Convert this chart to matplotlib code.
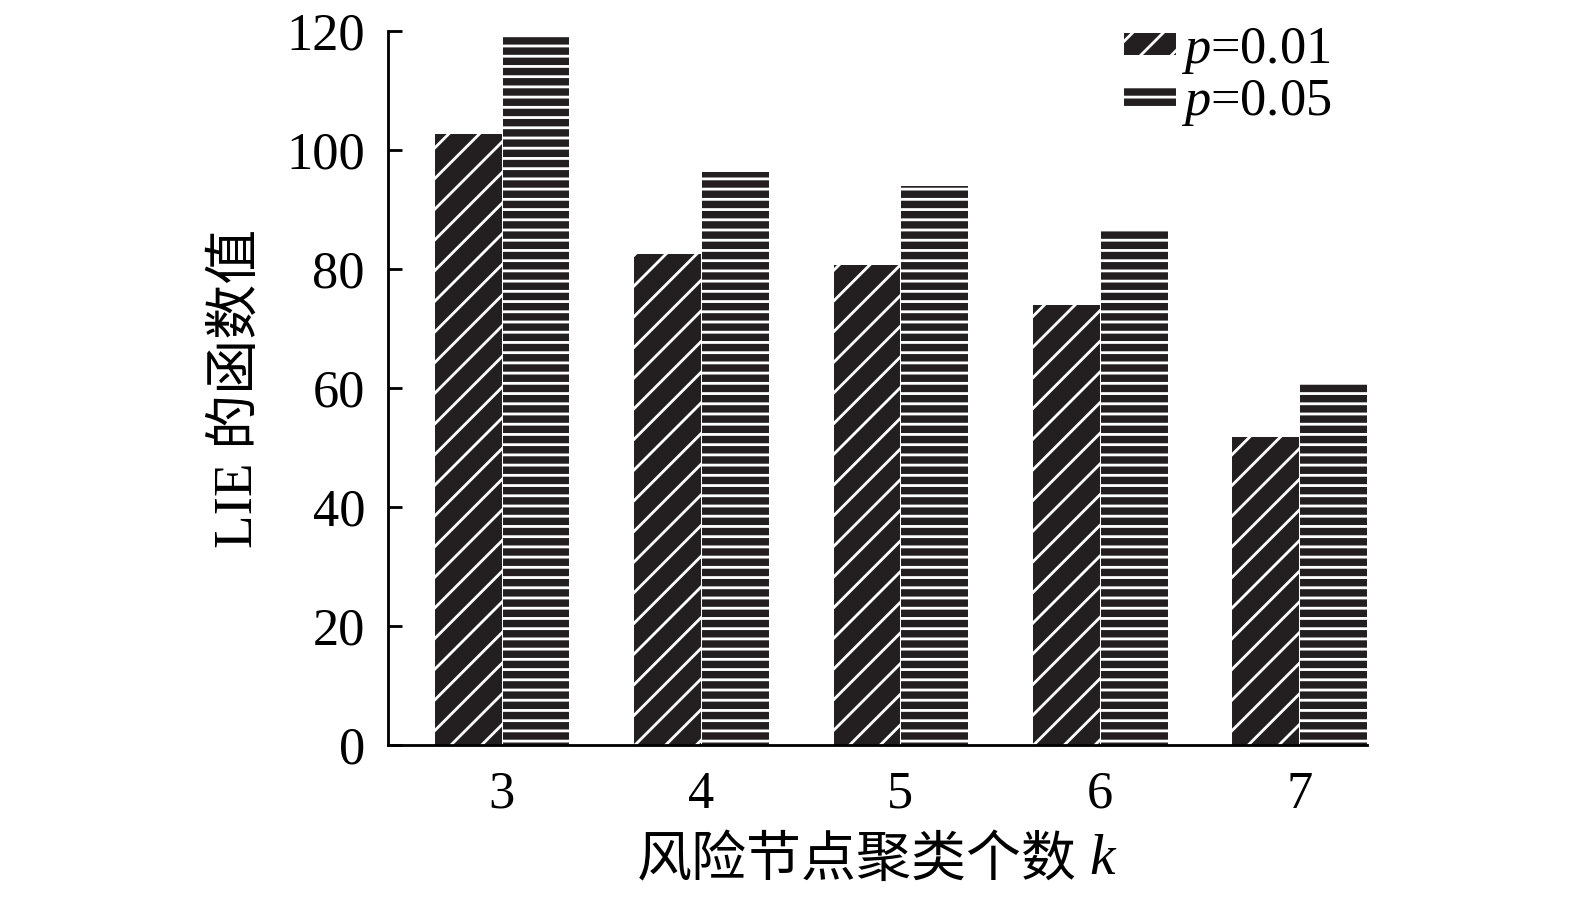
import matplotlib
matplotlib.use("Agg")
import matplotlib.pyplot as plt
import numpy as np

# Data
categories = [3, 4, 5, 6, 7]
p001 = [102.8, 82.7, 80.8, 74.2, 52.0]
p005 = [119.3, 96.4, 94.2, 86.6, 61.0]
series_labels = ["$p$=0.01", "$p$=0.05"]
yticks = [0, 20, 40, 60, 80, 100, 120]

DPI = 184
plt.rcParams["font.family"] = ["Liberation Serif", "Noto Sans CJK SC"]
plt.rcParams["mathtext.fontset"] = "custom"
plt.rcParams["mathtext.rm"] = "Liberation Serif"
plt.rcParams["mathtext.it"] = "Liberation Serif:italic"
plt.rcParams["hatch.linewidth"] = 1.1

fig = plt.figure(figsize=(1575 / DPI, 900 / DPI), dpi=DPI)
ax = fig.add_axes([388 / 1575, 1 - 745 / 900, (1367 - 388) / 1575, (745 - 31) / 900])

dark = "#231f20"
x = np.array(categories, dtype=float)
w = 0.34
ax.bar(x - w / 2, p001, width=w, color=dark, edgecolor="white", linewidth=0.4,
       hatch="//", label=series_labels[0])
ax.bar(x + w / 2, p005, width=w, color=dark, edgecolor="white", linewidth=0.4,
       hatch="---", label=series_labels[1])

ax.set_xlim(2.43, 7.34)
ax.set_ylim(0, 120)
ax.set_xticks(categories)
ax.set_xticklabels([str(c) for c in categories])
ax.set_yticks(yticks)

for s in ["top", "right"]:
    ax.spines[s].set_visible(False)
for s in ["left", "bottom"]:
    ax.spines[s].set_linewidth(1.1)
    ax.spines[s].set_color("black")

ax.tick_params(axis="y", direction="in", length=5.5, width=1.1, labelsize=20.5, pad=9)
ax.tick_params(axis="x", length=0, labelsize=20.5, pad=10)

ax.set_ylabel("LIE 的函数值", fontsize=21.5, labelpad=9)

# x label: Chinese text + italic k
fig.text(1077 / 1575, 1 - 862 / 900, "风险节点聚类个数", ha="right", va="center",
         fontsize=21.5, family=["Liberation Serif", "Noto Sans CJK SC"])
fig.text(1089 / 1575, 1 - 860 / 900, "k", ha="left", va="center",
         fontsize=22.5, family="Liberation Serif", style="italic")

leg = ax.legend(loc="upper right", bbox_to_anchor=(0.985, 1.037), frameon=False,
                fontsize=20.5, handlelength=1.0, handleheight=0.28,
                handletextpad=0.1, labelspacing=0.05, borderaxespad=0.0)

fig.savefig("out.png", dpi=DPI)
